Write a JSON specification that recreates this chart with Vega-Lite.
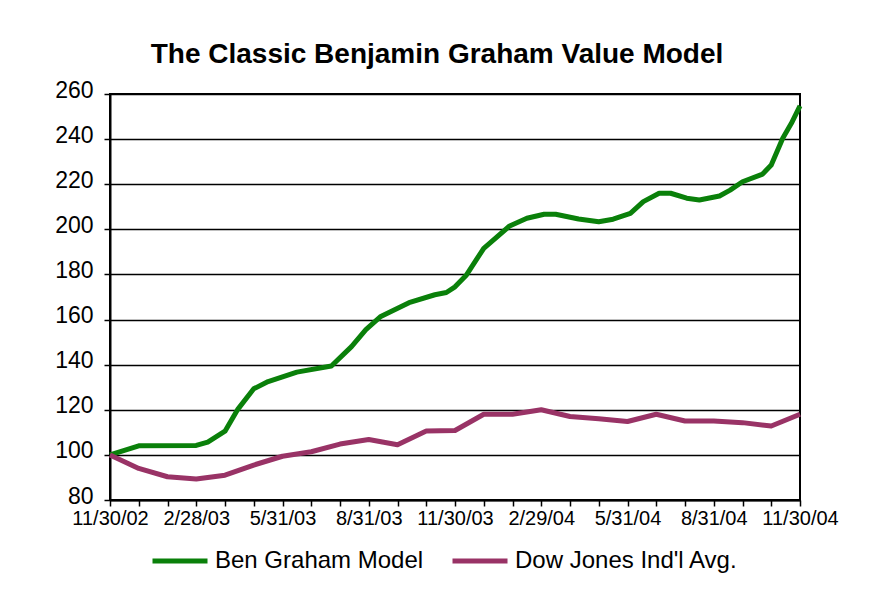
{
  "$schema": "https://vega.github.io/schema/vega-lite/v6.json",
  "width": 690,
  "height": 406,
  "autosize": {"type": "none"},
  "padding": {"left": 110, "top": 94, "right": 74, "bottom": 113},
  "background": "white",
  "title": {
    "text": "The Classic Benjamin Graham Value Model",
    "font": "Liberation Sans",
    "fontSize": 28,
    "fontWeight": "bold",
    "color": "#000000",
    "anchor": "middle",
    "frame": "group",
    "dx": -18,
    "offset": 10
  },
  "data": {
    "values": [
      {"month": 0, "series": "Ben Graham Model", "value": 100},
      {"month": 1, "series": "Ben Graham Model", "value": 104},
      {"month": 3, "series": "Ben Graham Model", "value": 104.2},
      {"month": 3.4, "series": "Ben Graham Model", "value": 105.7},
      {"month": 4, "series": "Ben Graham Model", "value": 110.5},
      {"month": 4.45, "series": "Ben Graham Model", "value": 120.3},
      {"month": 5, "series": "Ben Graham Model", "value": 129.3},
      {"month": 5.5, "series": "Ben Graham Model", "value": 132.5},
      {"month": 6.5, "series": "Ben Graham Model", "value": 136.7},
      {"month": 7.7, "series": "Ben Graham Model", "value": 139.4},
      {"month": 8.4, "series": "Ben Graham Model", "value": 148},
      {"month": 8.9, "series": "Ben Graham Model", "value": 155.5},
      {"month": 9.4, "series": "Ben Graham Model", "value": 161.2},
      {"month": 10.4, "series": "Ben Graham Model", "value": 167.5},
      {"month": 11.3, "series": "Ben Graham Model", "value": 171},
      {"month": 11.7, "series": "Ben Graham Model", "value": 172},
      {"month": 12, "series": "Ben Graham Model", "value": 174.5},
      {"month": 12.4, "series": "Ben Graham Model", "value": 179.8},
      {"month": 13, "series": "Ben Graham Model", "value": 191.6},
      {"month": 13.9, "series": "Ben Graham Model", "value": 201.5},
      {"month": 14.5, "series": "Ben Graham Model", "value": 204.9},
      {"month": 15.1, "series": "Ben Graham Model", "value": 206.7},
      {"month": 15.5, "series": "Ben Graham Model", "value": 206.7},
      {"month": 16.3, "series": "Ben Graham Model", "value": 204.6},
      {"month": 17, "series": "Ben Graham Model", "value": 203.4},
      {"month": 17.5, "series": "Ben Graham Model", "value": 204.5},
      {"month": 18.1, "series": "Ben Graham Model", "value": 207.1},
      {"month": 18.55, "series": "Ben Graham Model", "value": 212.3},
      {"month": 19.1, "series": "Ben Graham Model", "value": 216},
      {"month": 19.5, "series": "Ben Graham Model", "value": 216},
      {"month": 20.06, "series": "Ben Graham Model", "value": 213.8},
      {"month": 20.5, "series": "Ben Graham Model", "value": 213},
      {"month": 21.2, "series": "Ben Graham Model", "value": 214.8},
      {"month": 21.57, "series": "Ben Graham Model", "value": 217.4},
      {"month": 22, "series": "Ben Graham Model", "value": 221.1},
      {"month": 22.7, "series": "Ben Graham Model", "value": 224.5},
      {"month": 23, "series": "Ben Graham Model", "value": 228.5},
      {"month": 23.4, "series": "Ben Graham Model", "value": 240.4},
      {"month": 23.7, "series": "Ben Graham Model", "value": 247},
      {"month": 24, "series": "Ben Graham Model", "value": 254.7},
      {"month": 0, "series": "Dow Jones Ind'l Avg.", "value": 100},
      {"month": 1, "series": "Dow Jones Ind'l Avg.", "value": 94},
      {"month": 2, "series": "Dow Jones Ind'l Avg.", "value": 90.3},
      {"month": 3, "series": "Dow Jones Ind'l Avg.", "value": 89.3},
      {"month": 4, "series": "Dow Jones Ind'l Avg.", "value": 91},
      {"month": 5, "series": "Dow Jones Ind'l Avg.", "value": 95.5},
      {"month": 6, "series": "Dow Jones Ind'l Avg.", "value": 99.4},
      {"month": 7, "series": "Dow Jones Ind'l Avg.", "value": 101.4},
      {"month": 8, "series": "Dow Jones Ind'l Avg.", "value": 104.8},
      {"month": 9, "series": "Dow Jones Ind'l Avg.", "value": 106.8},
      {"month": 10, "series": "Dow Jones Ind'l Avg.", "value": 104.5},
      {"month": 11, "series": "Dow Jones Ind'l Avg.", "value": 110.6},
      {"month": 12, "series": "Dow Jones Ind'l Avg.", "value": 110.8},
      {"month": 13, "series": "Dow Jones Ind'l Avg.", "value": 118},
      {"month": 14, "series": "Dow Jones Ind'l Avg.", "value": 118},
      {"month": 15, "series": "Dow Jones Ind'l Avg.", "value": 120},
      {"month": 16, "series": "Dow Jones Ind'l Avg.", "value": 117},
      {"month": 17, "series": "Dow Jones Ind'l Avg.", "value": 116},
      {"month": 18, "series": "Dow Jones Ind'l Avg.", "value": 114.8},
      {"month": 19, "series": "Dow Jones Ind'l Avg.", "value": 118},
      {"month": 20, "series": "Dow Jones Ind'l Avg.", "value": 115},
      {"month": 21, "series": "Dow Jones Ind'l Avg.", "value": 115},
      {"month": 22, "series": "Dow Jones Ind'l Avg.", "value": 114.3},
      {"month": 23, "series": "Dow Jones Ind'l Avg.", "value": 112.8},
      {"month": 24, "series": "Dow Jones Ind'l Avg.", "value": 118}
    ]
  },
  "mark": {"type": "line", "strokeWidth": 5, "strokeJoin": "round", "strokeCap": "butt"},
  "encoding": {
    "x": {
      "field": "month",
      "type": "quantitative",
      "scale": {"domain": [0, 24], "nice": false, "zero": false},
      "axis": {
        "title": null,
        "values": [0,1,2,3,4,5,6,7,8,9,10,11,12,13,14,15,16,17,18,19,20,21,22,23,24],
        "labelExpr": "datum.value % 3 == 0 ? ['11/30/02','2/28/03','5/31/03','8/31/03','11/30/03','2/29/04','5/31/04','8/31/04','11/30/04'][datum.value / 3] : ''",
        "labelOverlap": false,
        "labelBound": false,
        "labelFlush": false,
        "grid": false,
        "tickSize": 6,
        "tickWidth": 1.5,
        "tickColor": "#000000",
        "domainColor": "#000000",
        "domainWidth": 2,
        "labelFont": "Liberation Sans",
        "labelFontSize": 20,
        "labelColor": "#000000",
        "labelPadding": 2
      }
    },
    "y": {
      "field": "value",
      "type": "quantitative",
      "scale": {"domain": [80, 260], "nice": false, "zero": false},
      "axis": {
        "title": null,
        "values": [80,100,120,140,160,180,200,220,240,260],
        "grid": true,
        "gridColor": "#000000",
        "gridWidth": 1.5,
        "gridOpacity": 1,
        "tickSize": 6,
        "tickWidth": 1.5,
        "tickColor": "#000000",
        "domainColor": "#000000",
        "domainWidth": 2,
        "labelFont": "Liberation Sans",
        "labelFontSize": 23,
        "labelColor": "#000000",
        "labelPadding": 11,
        "labelOffset": -4
      }
    },
    "color": {
      "field": "series",
      "type": "nominal",
      "scale": {"domain": ["Ben Graham Model", "Dow Jones Ind'l Avg."], "range": ["#0a800a", "#993366"]},
      "legend": {
        "title": null,
        "orient": "none",
        "direction": "horizontal",
        "legendX": 40,
        "legendY": 437,
        "symbolType": "stroke",
        "symbolSize": 3025,
        "symbolStrokeWidth": 5,
        "labelFont": "Liberation Sans",
        "labelFontSize": 24,
        "labelColor": "#000000",
        "labelOffset": 5,
        "labelLimit": 400,
        "columnPadding": 18
      }
    }
  },
  "config": {
    "view": {"stroke": "#000000", "strokeWidth": 2}
  }
}
